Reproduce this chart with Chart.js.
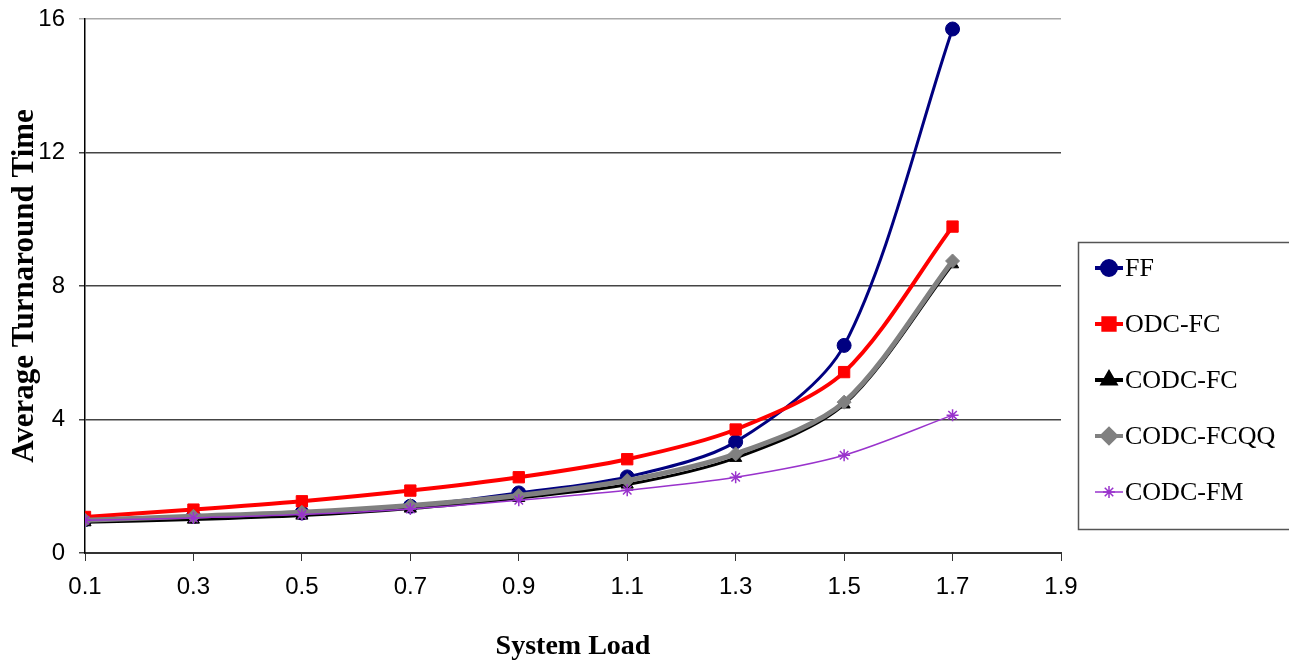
<!DOCTYPE html>
<html>
<head>
  <title>Average Turnaround Time vs System Load</title>
  <script src="https://cdn.jsdelivr.net/npm/chart.js"></script>
  <style>
    body { margin: 0; background: #fff; }
    canvas { display: block; }
  </style>
</head>
<body>

<canvas id="loadChart" width="1289" height="664"></canvas>

<script>
const loads = [0.1, 0.3, 0.5, 0.7, 0.9, 1.1, 1.3, 1.5, 1.7];
const ff       = [1.0, 1.1, 1.2, 1.4, 1.8, 2.28, 3.33, 6.22, 15.7];
const odcFc    = [1.08, 1.3, 1.55, 1.87, 2.27, 2.81, 3.7, 5.42, 9.78];
const codcFc   = [0.92, 1.0, 1.12, 1.33, 1.65, 2.05, 2.85, 4.45, 8.65];
const codcFcqq = [0.98, 1.1, 1.22, 1.42, 1.72, 2.17, 2.97, 4.52, 8.75];
const codcFm   = [0.98, 1.05, 1.15, 1.32, 1.58, 1.88, 2.27, 2.93, 4.13];

const seriesNames = ['FF', 'ODC-FC', 'CODC-FC', 'CODC-FCQQ', 'CODC-FM'];
const yTicks = [0, 4, 8, 12, 16];

function pts(vals) {
  return vals.map((v, i) => ({ x: loads[i], y: v }));
}

function series(label, vals, color, width, style, radius, order) {
  return {
    label: label,
    data: pts(vals),
    borderColor: color,
    backgroundColor: color,
    borderWidth: width,
    pointStyle: style,
    pointRadius: radius,
    pointBorderColor: color,
    pointBackgroundColor: color,
    pointBorderWidth: style === 'star' ? 1.5 : 1,
    tension: 0.3,
    order: order
  };
}

const datasets = [
  series(seriesNames[0], ff, '#000080', 3, 'circle', 7, 5),
  series(seriesNames[1], odcFc, '#ff0000', 4, 'rect', 8, 4),
  series(seriesNames[2], codcFc, '#000000', 3, 'triangle', 7, 3),
  series(seriesNames[3], codcFcqq, '#808080', 5, 'rectRot', 7, 2),
  series(seriesNames[4], codcFm, '#9933cc', 1.5, 'star', 6, 1)
];

// legend drawn in a framed box to the right, like the original
const boxLegend = {
  id: 'boxLegend',
  afterDraw(chart) {
    const ctx = chart.ctx;
    ctx.save();
    ctx.strokeStyle = '#555';
    ctx.lineWidth = 1.5;
    ctx.strokeRect(1078.5, 242.5, 230, 287);
    chart.data.datasets.forEach((ds, i) => {
      const y = 268 + i * 56;
      ctx.strokeStyle = ds.borderColor;
      ctx.lineWidth = ds.pointStyle === 'star' ? 1.5 : 4;
      ctx.beginPath();
      ctx.moveTo(1095, y);
      ctx.lineTo(1123, y);
      ctx.stroke();
      ctx.fillStyle = ds.backgroundColor;
      Chart.helpers.drawPoint(ctx, {
        pointStyle: ds.pointStyle,
        radius: ds.pointRadius,
        rotation: 0,
        borderWidth: ds.pointBorderWidth
      }, 1109, y);
      ctx.fillStyle = '#000';
      ctx.font = '26px "Liberation Serif", "Times New Roman", serif';
      ctx.textBaseline = 'middle';
      ctx.fillText(ds.label, 1125, y + 1);
    });
    ctx.restore();
  }
};

new Chart(document.getElementById('loadChart'), {
  type: 'line',
  data: { datasets: datasets },
  options: {
    responsive: false,
    animation: false,
    layout: { padding: { top: 19, right: 228, left: 0, bottom: 0 } },
    plugins: { legend: { display: false }, tooltip: { enabled: false } },
    scales: {
      x: {
        type: 'linear',
        min: 0.1,
        max: 1.9,
        afterFit: s => { s.height = 111; },
        afterBuildTicks: s => { s.ticks = loads.concat([1.9]).map(v => ({ value: v })); },
        ticks: {
          color: '#000',
          padding: 12,
          font: { family: '"Liberation Sans", Arial, sans-serif', size: 24 },
          callback: v => v.toFixed(1)
        },
        grid: { drawOnChartArea: false, drawTicks: true, tickLength: 8, color: '#333' },
        border: { color: '#333', width: 2 },
        title: {
          display: true,
          text: 'System Load',
          color: '#000',
          padding: { top: 0, bottom: 0 },
          font: { family: '"Liberation Serif", "Times New Roman", serif', size: 28, weight: 'bold' }
        }
      },
      y: {
        min: 0,
        max: 16,
        afterFit: s => { s.width = 85; s.paddingTop = 0; s.paddingBottom = 0; },
        afterBuildTicks: s => { s.ticks = yTicks.map(v => ({ value: v })); },
        ticks: {
          color: '#000',
          padding: 14,
          font: { family: '"Liberation Sans", Arial, sans-serif', size: 24 }
        },
        grid: {
          color: ctx => ctx.tick && ctx.tick.value === 16 ? '#aaa' : '#444',
          lineWidth: 1.5,
          tickLength: 6
        },
        border: { color: '#000', width: 1.5 },
        title: {
          display: true,
          text: 'Average Turnaround Time',
          color: '#000',
          padding: { top: 6, bottom: 0 },
          font: { family: '"Liberation Serif", "Times New Roman", serif', size: 31, weight: 'bold' }
        }
      }
    }
  },
  plugins: [boxLegend]
});
</script>
</body>
</html>
